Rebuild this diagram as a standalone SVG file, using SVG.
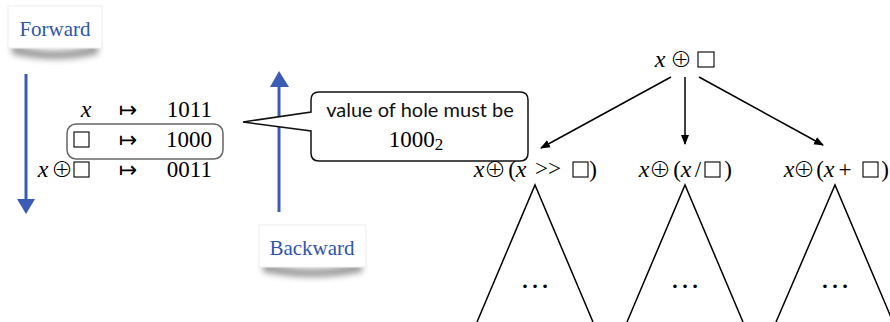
<svg xmlns="http://www.w3.org/2000/svg" width="890" height="322" viewBox="0 0 890 322">
<style>
.m{font-family:"Liberation Serif","DejaVu Serif",serif;font-size:23px;fill:#000}
.i{font-style:italic;font-size:24px}
.o{font-family:"Noto Sans CJK JP","DejaVu Sans",sans-serif;font-weight:300;font-size:22px;fill:#000}
.ar{font-family:"DejaVu Sans",sans-serif;font-size:22px;fill:#000}
.lab{font-family:"Liberation Serif","DejaVu Serif",serif;font-size:21px;fill:#2f55ad}
.s{font-family:"Lato","Noto Sans",sans-serif;font-size:20px;fill:#111}
.d{font-family:"Liberation Serif",serif;font-size:30px;fill:#000}
.bx{fill:none;stroke:#000;stroke-width:1.1}
.ln{stroke:#000;stroke-width:1.5;fill:none}
.blue{stroke:#3a5cb4;stroke-width:3;fill:none}
</style>
<defs>
<marker id="ah" markerWidth="10" markerHeight="10" refX="9" refY="5" orient="auto" markerUnits="userSpaceOnUse">
<path d="M0,1 L10,5 L0,9 z" fill="#000"/>
</marker>
<filter id="sh" x="-20%" y="-20%" width="140%" height="160%">
<feGaussianBlur stdDeviation="3"/>
</filter>
</defs>

<g id="forward">
<path d="M12,44 Q55,58 98,44 L98,54 Q55,64 12,54 z" fill="#555" opacity="0.6" filter="url(#sh)"/>
<rect x="8" y="6" width="94" height="42" fill="#fff" stroke="#eee" stroke-width="1"/>
<text class="lab" x="55" y="36" text-anchor="middle">Forward</text>
</g>

<g id="backward">
<path d="M263,262 Q312,276 362,262 L362,272 Q312,282 263,272 z" fill="#555" opacity="0.6" filter="url(#sh)"/>
<rect x="259" y="225" width="107" height="42" fill="#fff" stroke="#eee" stroke-width="1"/>
<text class="lab" x="312" y="255" text-anchor="middle">Backward</text>
</g>

<g id="connectors">
<line class="blue" x1="26" y1="74" x2="26" y2="200"/>
<path d="M17,199 L35,199 L26,214 z" fill="#3a5cb4"/>
<line class="blue" x1="279" y1="86" x2="279" y2="212"/>
<path d="M270,87 L289,87 L279,71 z" fill="#3a5cb4"/>
<line class="ln" x1="671" y1="77" x2="541" y2="148" marker-end="url(#ah)"/>
<line class="ln" x1="685" y1="77" x2="685" y2="144" marker-end="url(#ah)"/>
<line class="ln" x1="699" y1="77" x2="823" y2="145" marker-end="url(#ah)"/>
</g>

<g id="table">
<text class="m i" x="86" y="117" text-anchor="middle">x</text>
<text class="ar" x="128" y="117" text-anchor="middle">↦</text>
<text class="m" x="212" y="117" text-anchor="end">1011</text>
<rect x="67" y="124" width="156" height="35" rx="9" fill="none" stroke="#666" stroke-width="1.5"/>
<rect x="74" y="132" width="15" height="15" class="bx"/>
<text class="ar" x="128" y="147" text-anchor="middle">↦</text>
<text class="m" x="212" y="147" text-anchor="end">1000</text>
<text class="m i" x="43" y="177" text-anchor="middle">x</text>
<text class="o" x="62" y="177" text-anchor="middle">⊕</text>
<rect x="74" y="162" width="15" height="15" class="bx"/>
<text class="ar" x="128" y="177" text-anchor="middle">↦</text>
<text class="m" x="212" y="177" text-anchor="end">0011</text>
</g>

<g id="callout">
<path d="M319,92 L520,92 Q528,92 528,100 L528,153 Q528,161 520,161 L319,161 Q311,161 311,153 L311,131 L243,122 L311,112 L311,100 Q311,92 319,92 z" fill="#fff" stroke="#111" stroke-width="1.5"/>
<text class="s" x="420" y="117" text-anchor="middle">value of hole must be</text>
<text class="m" x="416" y="147" text-anchor="middle" font-size="24">1000<tspan font-size="17" dy="3">2</tspan></text>
</g>

<g id="root">
<text class="m i" x="660" y="67" text-anchor="middle">x</text>
<text class="o" x="681" y="67" text-anchor="middle">⊕</text>
<rect x="698" y="52" width="16" height="15" class="bx"/>
</g>

<g id="child1">
<text class="m i" x="479" y="177" text-anchor="middle">x</text>
<text class="o" x="495" y="177" text-anchor="middle">⊕</text>
<text class="m" x="512" y="177" text-anchor="middle">(</text>
<text class="m i" x="521" y="177" text-anchor="middle">x</text>
<text class="m" x="548" y="176" text-anchor="middle">&gt;&gt;</text>
<rect x="573" y="162" width="15" height="15" class="bx"/>
<text class="m" x="593" y="177" text-anchor="middle">)</text>
<path class="ln" d="M477,322 L535,185 L593,322"/>
<text class="d" x="535" y="288" text-anchor="middle">…</text>
</g>

<g id="child2">
<text class="m i" x="644" y="177" text-anchor="middle">x</text>
<text class="o" x="660" y="177" text-anchor="middle">⊕</text>
<text class="m" x="677" y="177" text-anchor="middle">(</text>
<text class="m i" x="686" y="177" text-anchor="middle">x</text>
<text class="m" x="698" y="177" text-anchor="middle">/</text>
<rect x="705" y="162" width="15" height="15" class="bx"/>
<text class="m" x="728" y="177" text-anchor="middle">)</text>
<path class="ln" d="M627,322 L685,185 L743,322"/>
<text class="d" x="685" y="288" text-anchor="middle">…</text>
</g>

<g id="child3">
<text class="m i" x="789" y="177" text-anchor="middle">x</text>
<text class="o" x="804" y="177" text-anchor="middle">⊕</text>
<text class="m" x="820" y="177" text-anchor="middle">(</text>
<text class="m i" x="829" y="177" text-anchor="middle">x</text>
<text class="m" x="845" y="177" text-anchor="middle">+</text>
<rect x="863" y="162" width="15" height="15" class="bx"/>
<text class="m" x="885" y="177" text-anchor="middle">)</text>
<path class="ln" d="M776,322 L835,185 L893,322"/>
<text class="d" x="835" y="288" text-anchor="middle">…</text>
</g>
</svg>
